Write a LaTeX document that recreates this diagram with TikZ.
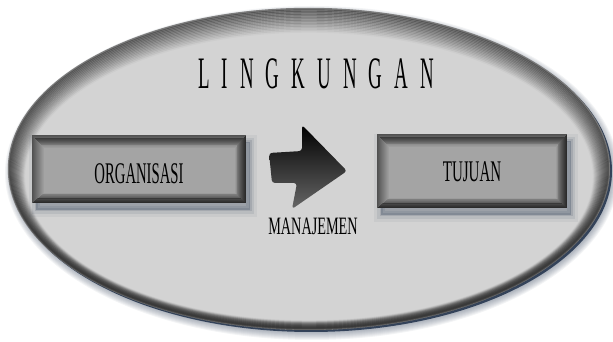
\documentclass[tikz,border=0pt]{standalone}
\usepackage{fontspec}
\setmainfont{Liberation Serif}
\newfontfamily\jarangfont[LetterSpace=64]{Liberation Serif}
\usepackage{tikz}
\usetikzlibrary{positioning}
\definecolor{latar}{HTML}{D3D3D3}
\definecolor{kotak}{HTML}{A4A4A4}
\definecolor{biru}{HTML}{34435A}
\newcommand{\sempit}[2][0.5]{\scalebox{#1}[1]{#2}}

\begin{document}
\begin{tikzpicture}[
  x=1pt, y=1pt,
  judul/.style={font=\jarangfont\fontsize{45}{45}\selectfont, text=black, inner sep=0pt},
  lbl/.style={font=\fontsize{30}{30}\selectfont, text=black, inner sep=0pt},
  bayang/.style={preaction={draw=biru, opacity=0.06, line width=14pt, transform canvas={shift={(4pt,-7pt)}}},
                 preaction={draw=biru, opacity=0.10, line width=8pt, transform canvas={shift={(4pt,-7pt)}}},
                 preaction={draw=biru, opacity=0.15, line width=3pt, transform canvas={shift={(4pt,-7pt)}}},
                 preaction={fill=biru, opacity=0.30, transform canvas={shift={(4pt,-7pt)}}}},
  kotakbox/.style={rectangle, fill=kotak, inner sep=0pt, bayang,
    path picture={
      \foreach \k [evaluate=\k as \op using 0.5*(1-\k/12)] in {0,...,11}
        \draw[black, opacity=\op, line width=1.8pt]
          ([shift={(\k+0.5,-1.1*\k-0.5)}]path picture bounding box.north west) rectangle
          ([shift={(-0.9*\k-0.5,0.8*\k+0.5)}]path picture bounding box.south east);
    }}
]
\useasboundingbox (0,0) rectangle (613,342);
\coordinate (pusat) at (309,173);

% elips lingkungan
\foreach \k in {0,...,7}
  \fill[biru, opacity=0.06] ([shift={(3,-4)}]pusat) ellipse ({300+\k} and {160+\k});
\fill[biru] ([shift={(2,-2)}]pusat) ellipse (301 and 161);
\fill[latar] (pusat) ellipse (301 and 161);
\foreach \k [evaluate=\k as \op using 0.55*(1-\k/16)] in {0,...,15}
  \draw[black!80, opacity=\op, line width=2.4pt] ([shift={(0,-0.5*\k)}]pusat) ellipse ({300-\k} and {160-\k});

\node[judul, anchor=west] (ling) at (198,268) {\sempit[0.42]{LINGKUNGAN}};

% kotak
\node[kotakbox, minimum width=214pt, minimum height=68pt] (org) at (139,173) {};
\node[kotakbox, minimum width=190pt, minimum height=74pt] (tuj) at (472,171) {};
\node[lbl] (orgteks) at ([yshift=-5pt]org.center) {\sempit[0.49]{ORGANISASI}};
\node[lbl] (tujteks) at ([yshift=-1pt]tuj.center) {\sempit[0.5]{TUJUAN}};

% panah manajemen
\shade[top color=black, bottom color=black!60, rounded corners=3pt]
  (269,189) -- (302,191) -- (302,217) -- (347,171) -- (292,133) -- (297,159) -- (272,159) -- cycle;
\node[lbl, font=\fontsize{25}{25}\selectfont] (man) at (313,116) {\sempit[0.57]{MANAJEMEN}};
\end{tikzpicture}
\end{document}
